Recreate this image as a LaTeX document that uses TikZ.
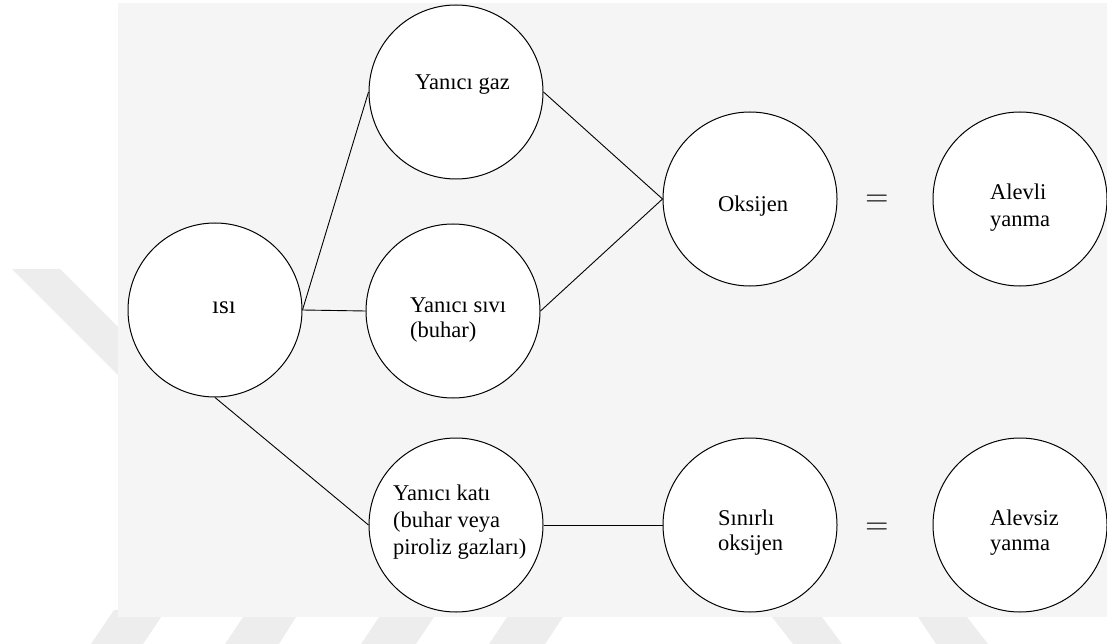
\documentclass[tikz,border=0pt]{standalone}
\usepackage{fontspec}
\setmainfont{Liberation Serif}
\newfontfamily\lmrfont{Latin Modern Roman}
\begin{document}
\begin{tikzpicture}[x=1pt,y=-1pt,
  circ/.style={circle, draw=black, fill=white, minimum size=174pt, inner sep=0pt, line width=1pt},
  lbl/.style={anchor=base west, inner sep=0pt, font=\fontsize{22.5}{27}\selectfont},
  lblc/.style={anchor=base, inner sep=0pt, font=\fontsize{25}{27}\selectfont},
  eqs/.style={inner sep=0pt, font=\lmrfont\fontsize{32}{32}\selectfont},
  conn/.style={line width=0.9pt, draw=black},
  wm/.style={fill=black!7},
  paper/.style={fill=black!4}]
\useasboundingbox (0,0) rectangle (1107,644);
% watermark
\fill[wm] (12,269) -- (60,269) -- (130,339) -- (130,387) -- cycle;
\fill[wm] (114,610) -- (166,610) -- (143,644) -- (91,644) -- cycle;
\fill[wm] (243,617) -- (296,617) -- (279,644) -- (225,644) -- cycle;
\fill[wm] (379,617) -- (434,617) -- (416,644) -- (361,644) -- cycle;
\fill[wm] (507,617) -- (563,617) -- (545,644) -- (489,644) -- cycle;
\fill[wm] (772,617) -- (822,617) -- (842,644) -- (793,644) -- cycle;
\fill[wm] (918,617) -- (967,617) -- (988,644) -- (936,644) -- cycle;
% paper
\fill[paper] (118,3) rectangle (1107,617);
% circles
\node[circ] (isi) at (215,310) {};
\node[circ] (gaz) at (456,92) {};
\node[circ] (sivi) at (453,311) {};
\node[circ] (oks) at (750,199) {};
\node[circ] (alevli) at (1020,199) {};
\node[circ] (kati) at (456,525) {};
\node[circ] (sinirli) at (750,525) {};
\node[circ] (alevsiz) at (1020,525) {};
% connectors
\draw[conn] (isi.east) -- (gaz.west);
\draw[conn] (isi.east) -- (sivi.west);
\draw[conn] (isi.south) -- (kati.west);
\draw[conn] (gaz.east) -- (oks.west);
\draw[conn] (sivi.east) -- (oks.west);
\draw[conn] (kati.east) -- (sinirli.west);
% texts
\node[lblc] (tisi) at (224,313) {ısı};
\node[lbl] (tgaz) at (415,90) {Yanıcı gaz};
\node[lbl] (tsivi1) at (410,312) {Yanıcı sıvı};
\node[lbl] (tsivi2) at (410,337) {(buhar)};
\node[lbl] (tkati1) at (393,500) {Yanıcı katı};
\node[lbl] (tkati2) at (393,527) {(buhar veya};
\node[lbl] (tkati3) at (393,554) {piroliz gazları)};
\node[lbl] (toks) at (718,212) {Oksijen};
\node[lbl] (talevli1) at (990,200) {Alevli};
\node[lbl] (talevli2) at (990,227) {yanma};
\node[lbl] (tsin1) at (718,525) {Sınırlı};
\node[lbl] (tsin2) at (718,550) {oksijen};
\node[lbl] (talevsiz1) at (990,525) {Alevsiz};
\node[lbl] (talevsiz2) at (990,550) {yanma};
\node[eqs] (eq1) at (877,201) {=};
\node[eqs] (eq2) at (877,529) {=};
\end{tikzpicture}
\end{document}
